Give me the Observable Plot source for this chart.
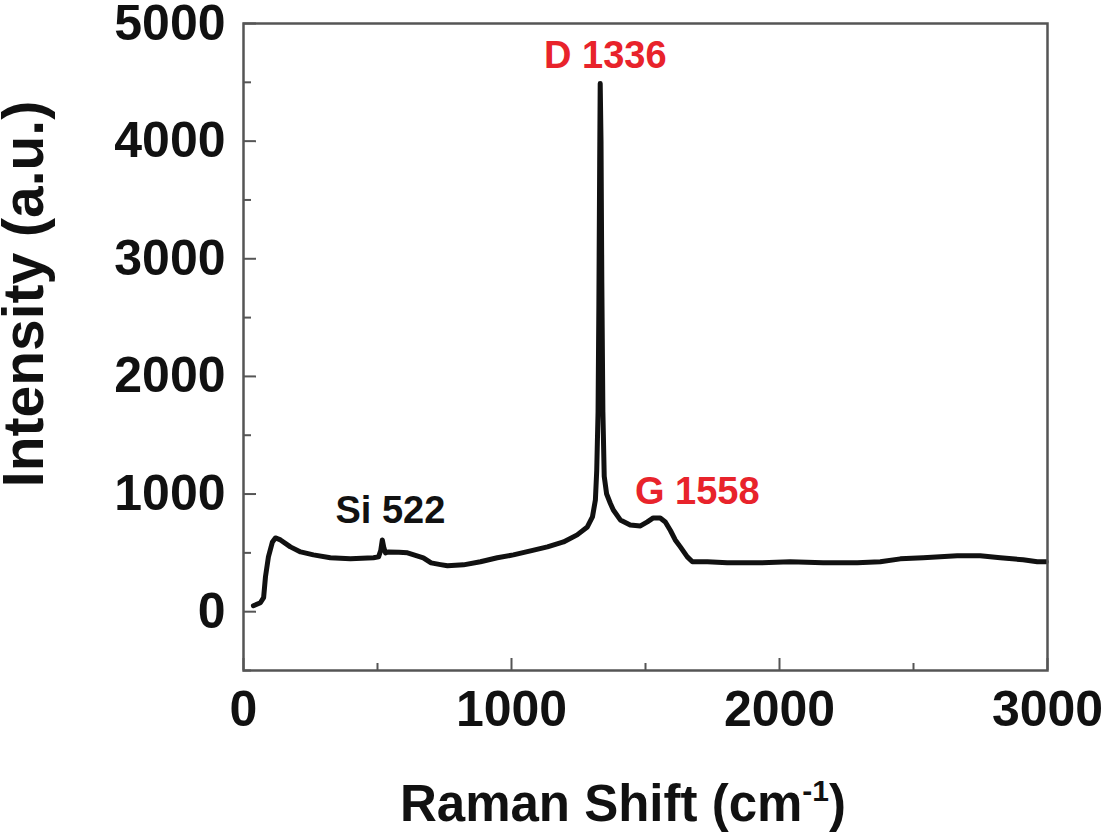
<!DOCTYPE html>
<html>
<head>
<meta charset="utf-8">
<script src="https://cdn.jsdelivr.net/npm/d3@7"></script>
<script src="https://cdn.jsdelivr.net/npm/@observablehq/plot@0.6"></script>
<style>
  html, body { margin: 0; padding: 0; background: #fff; }
  #chart { width: 1102px; height: 837px; }
</style>
</head>
<body>
<div id="chart"></div>
<script>
// Raman shift (cm-1) and intensity (a.u.)
const shift = [37, 63, 75, 82, 93, 108, 119, 138, 175, 213, 261, 324, 399, 485, 504, 512, 518, 524, 530, 541, 580, 612, 671, 700, 735, 761, 821, 884, 947, 1007, 1071, 1134, 1194, 1245, 1283, 1302, 1313, 1318, 1323, 1326, 1329, 1331, 1334, 1337, 1341, 1346, 1355, 1369, 1380, 1406, 1443, 1481, 1507, 1529, 1555, 1574, 1593, 1611, 1630, 1656, 1675, 1731, 1805, 1917, 2040, 2163, 2290, 2376, 2451, 2536, 2663, 2749, 2824, 2909, 2962, 2995];
const intensity = [51, 76, 119, 297, 466, 593, 627, 610, 551, 508, 483, 458, 449, 458, 466, 520, 610, 540, 500, 508, 505, 500, 458, 415, 400, 390, 398, 424, 458, 483, 517, 551, 593, 653, 720, 805, 949, 1200, 1700, 2600, 3800, 4490, 4000, 2800, 1700, 1150, 1000, 920, 864, 780, 737, 729, 763, 797, 797, 763, 690, 610, 551, 466, 424, 424, 415, 415, 424, 415, 415, 424, 449, 458, 475, 475, 458, 441, 424, 424];

const xMajor = [0, 1000, 2000, 3000];
const xMinor = [500, 1500, 2500];
const yMajor = [0, 1000, 2000, 3000, 4000, 5000];
const yMinor = [-500, 500, 1500, 2500, 3500, 4500];

const peakLabels = ["Si 522", "D 1336", "G 1558"];
const peakLabelX = [548, 1350, 1693];
const peakLabelY = [856, 4729, 1017];
const peakLabelColor = ["#111111", "#e8232b", "#e8232b"];

const spectrum = shift.map((s, i) => ({s, v: intensity[i]}));
const labels = peakLabels.map((t, i) => ({t, x: peakLabelX[i], y: peakLabelY[i], c: peakLabelColor[i]}));

const W = 1102, H = 837;
const mL = 243, mR = 55, mT = 23, mB = 167;
const frameW = W - mL - mR, frameH = H - mT - mB;

const font = "'Liberation Sans', Arial, Helvetica, sans-serif";

const chart = Plot.plot({
  width: W,
  height: H,
  marginLeft: mL,
  marginRight: mR,
  marginTop: mT,
  marginBottom: mB,
  style: {fontFamily: font, fontWeight: "bold", background: "#fff", color: "#111"},
  x: {domain: [0, 3000]},
  y: {domain: [-500, 5000]},
  marks: [
    Plot.axisX({ticks: xMajor, tickSize: 0, tickPadding: 20, fontSize: 50, fontWeight: "bold", label: null, tickFormat: d => String(d)}),
    Plot.axisY({ticks: yMajor, tickSize: 0, tickPadding: 18, fontSize: 50, fontWeight: "bold", label: null, tickFormat: d => String(d)}),
    Plot.tickX(xMajor, {x: d => d, insetTop: frameH - 12, stroke: "#555", strokeWidth: 2}),
    Plot.tickX(xMinor, {x: d => d, insetTop: frameH - 7, stroke: "#555", strokeWidth: 2}),
    Plot.tickY(yMajor, {y: d => d, insetRight: frameW - 13, stroke: "#555", strokeWidth: 2}),
    Plot.tickY(yMinor, {y: d => d, insetRight: frameW - 8, stroke: "#555", strokeWidth: 2}),
    Plot.line(spectrum, {x: "s", y: "v", stroke: "#111", strokeWidth: 5, strokeLinejoin: "round", strokeLinecap: "round"}),
    Plot.text(labels, {x: "x", y: "y", text: "t", fill: "c", fontSize: 38, fontWeight: "bold", textAnchor: "middle", lineAnchor: "middle"}),
    Plot.text(["Intensity (a.u.)"], {text: d => d, frameAnchor: "left", rotate: -90, dx: -201, dy: -53, lineAnchor: "bottom", textAnchor: "middle", fontSize: 57, fontWeight: "bold", fill: "#111"}),
    Plot.frame({stroke: "#555", strokeWidth: 2.5})
  ]
});

document.getElementById("chart").appendChild(chart);

// x-axis title with a superscript
const svg = d3.select(chart);
const t = svg.append("text")
  .attr("x", 623)
  .attr("y", 821)
  .attr("text-anchor", "middle")
  .attr("font-family", font)
  .attr("font-weight", "bold")
  .attr("font-size", 51)
  .attr("fill", "#111");
t.append("tspan").text("Raman Shift (cm");
t.append("tspan").attr("font-size", 30).attr("dy", -20).text("-1");
t.append("tspan").attr("dy", 20).text(")");
</script>
</body>
</html>
